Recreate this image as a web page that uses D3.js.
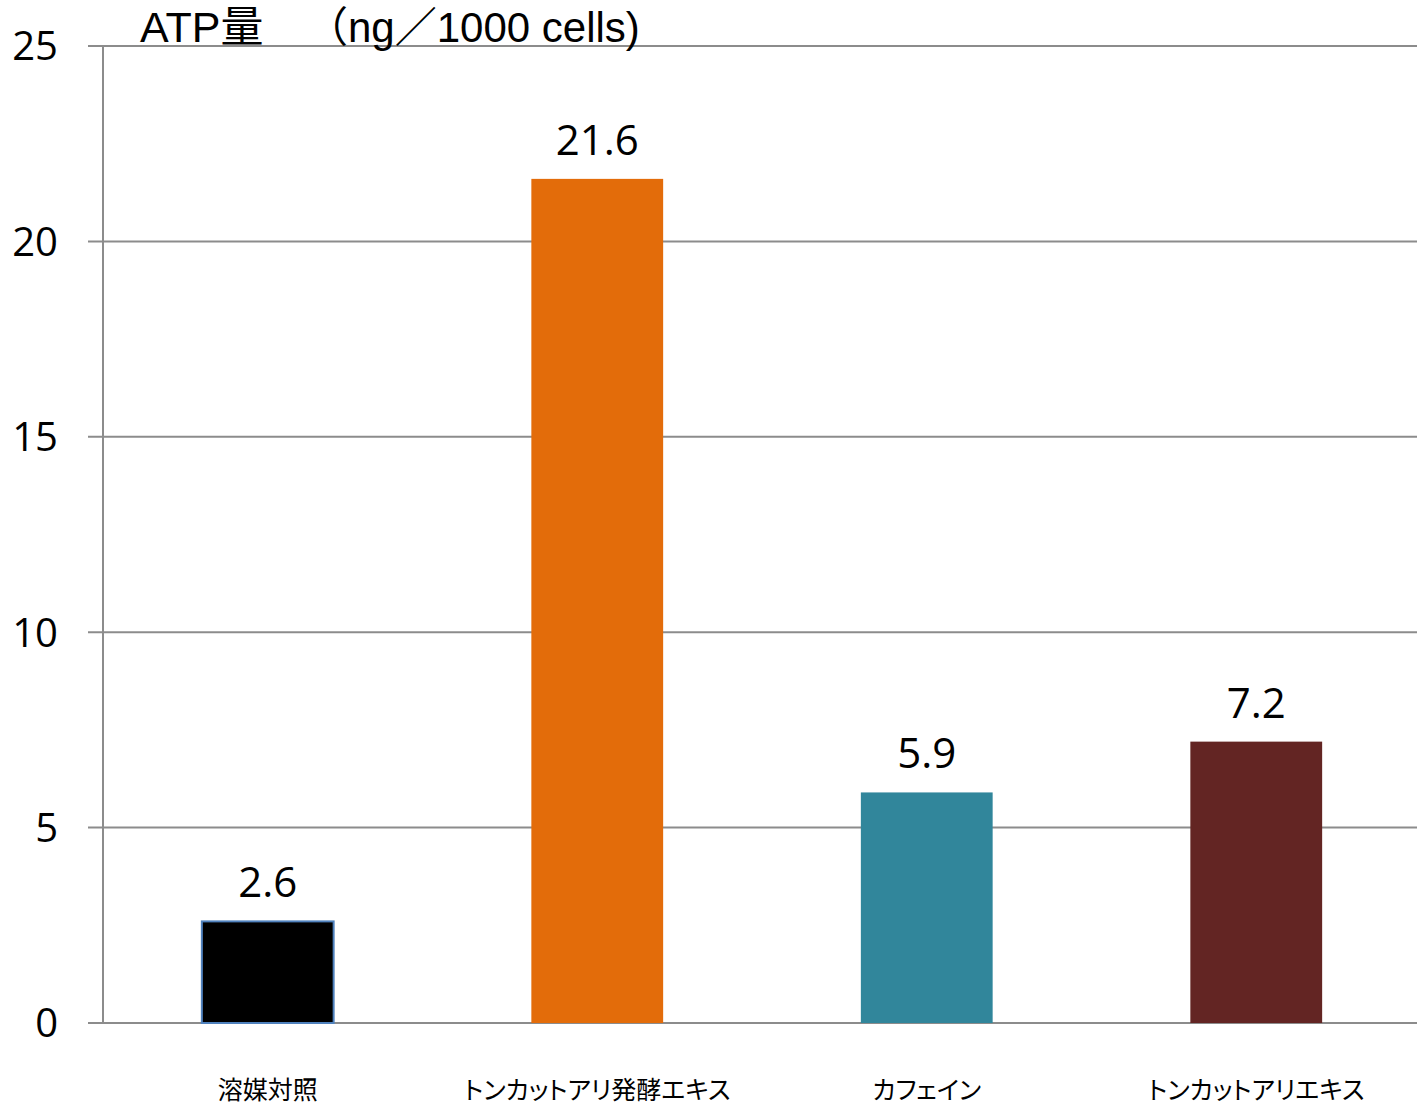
<!DOCTYPE html>
<html><head><meta charset="utf-8">
<script src="https://cdn.jsdelivr.net/npm/d3@7"></script>
<style>html,body{margin:0;padding:0;background:#fff;}</style>
</head><body>
<svg id="chart" width="1417" height="1106"></svg>
<script>
const categories = ["溶媒対照", "トンカットアリ発酵エキス", "カフェイン", "トンカットアリエキス"];
const values = [2.6, 21.6, 5.9, 7.2];
const valueLabels = ["2.6", "21.6", "5.9", "7.2"];
const barColors = ["#000000", "#e36c0a", "#31869b", "#632523"];
const barStrokes = ["#4f81bd", "none", "none", "none"];
const yTicks = [0, 5, 10, 15, 20, 25];
const titleMain = "ATP量";
const titleUnit = "（ng／1000 cells)";

const svg = d3.select("#chart");
const axisX = 103, plotRight = 1421, plotTop = 46, plotBottom = 1023;
const y = d3.scaleLinear().domain([0, 25]).range([plotBottom, plotTop]);
const x = d3.scaleBand().domain(categories).range([axisX, plotRight]).paddingInner(0.6).paddingOuter(0.3);
const gridColor = "#8c8c8c";
const numFont = "'Open Sans', 'Noto Sans', sans-serif";

// gridlines
svg.append("g").selectAll("line").data(yTicks).join("line")
  .attr("x1", 88).attr("x2", 1417)
  .attr("y1", d => y(d)).attr("y2", d => y(d))
  .attr("stroke", gridColor).attr("stroke-width", 2);
// y axis line
svg.append("line").attr("x1", axisX).attr("x2", axisX).attr("y1", y(25)).attr("y2", y(0))
  .attr("stroke", gridColor).attr("stroke-width", 2);
// tick labels
svg.append("g").selectAll("text").data(yTicks).join("text")
  .attr("x", 58).attr("y", d => y(d)).attr("dy", "0.36em")
  .attr("text-anchor", "end")
  .attr("font-family", numFont).attr("font-size", 40)
  .attr("fill", "#000").text(d => d);

// bars
svg.append("g").selectAll("rect").data(values).join("rect")
  .attr("x", (d, i) => x(categories[i]))
  .attr("width", x.bandwidth())
  .attr("y", d => y(d))
  .attr("height", d => y(0) - y(d))
  .attr("fill", (d, i) => barColors[i])
  .attr("stroke", (d, i) => barStrokes[i])
  .attr("stroke-width", 2);

// value labels
svg.append("g").selectAll("text").data(values).join("text")
  .attr("x", (d, i) => x(categories[i]) + x.bandwidth() / 2)
  .attr("y", d => y(d) - 24)
  .attr("text-anchor", "middle")
  .attr("font-family", numFont).attr("font-size", 42)
  .attr("fill", "#000").text((d, i) => valueLabels[i]);

// category labels
svg.append("g").selectAll("text").data(categories).join("text")
  .attr("x", d => x(d) + x.bandwidth() / 2)
  .attr("y", 1099)
  .attr("text-anchor", "middle")
  .attr("font-family", "'Noto Sans CJK JP', sans-serif").attr("font-size", 25)
  .style("font-feature-settings", "'palt'")
  .attr("fill", "#000").text(d => d);

// title
const titleFont = "'Liberation Sans', Arial, 'Noto Sans CJK JP', sans-serif";
svg.append("text").attr("x", 140).attr("y", 42)
  .attr("font-family", titleFont).attr("font-size", 43)
  .attr("fill", "#000").text(titleMain);
svg.append("text").attr("x", 306).attr("y", 42)
  .attr("font-family", titleFont).attr("font-size", 42)
  .attr("fill", "#000").text(titleUnit);
</script>
</body></html>
